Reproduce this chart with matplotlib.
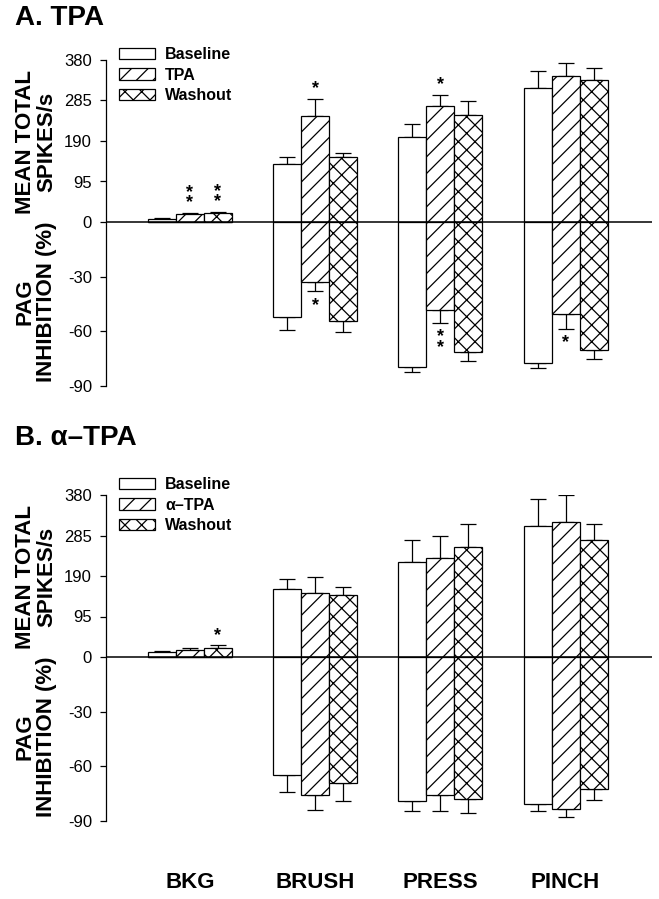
import numpy as np
import matplotlib.pyplot as plt
from matplotlib.patches import Patch
from matplotlib.transforms import blended_transform_factory

plt.rcParams['font.family'] = ['Liberation Sans', 'DejaVu Sans']
plt.rcParams['hatch.linewidth'] = 0.9

categories = ["BKG", "BRUSH", "PRESS", "PINCH"]
upper_ticks = [0, 95, 190, 285, 380]
lower_ticks = [-30, -60, -90]

# panel A: mean total spikes/s (upper) and PAG inhibition % (lower)
a_series = ["Baseline", "TPA", "Washout"]
a_up = [[7, 137, 200, 315], [18, 249, 271, 343], [20, 152, 252, 333]]
a_up_err = [[2, 15, 30, 40], [4, 40, 28, 29], [4, 9, 31, 29]]
a_low = [[0, -52, -79.3, -77.3], [0, -33, -48.2, -50.7], [0, -54.4, -71.6, -70.5]]
a_low_err = [[0, 7, 3, 3], [0, 5, 7, 8], [0, 6, 4.5, 4.5]]
# significance marks: (series, category, "up"/"down", label)
a_marks = [(1, 0, "up", "*\n*"), (2, 0, "up", "*\n*"), (1, 1, "up", "*"), (1, 2, "up", "*"),
           (1, 1, "down", "*"), (1, 2, "down", "*\n*"), (1, 3, "down", "*")]

# panel B
b_series = ["Baseline", "\u03b1\u2013TPA", "Washout"]
b_up = [[11, 160, 223, 307], [16, 151, 233, 316], [20, 146, 259, 274]]
b_up_err = [[4, 24, 52, 64], [6, 36, 52, 64], [7, 19, 52, 37]]
b_low = [[0, -64.5, -78.8, -80.4], [0, -76, -75.5, -83.2], [0, -69.4, -77.9, -72.5]]
b_low_err = [[0, 9.7, 5.7, 4], [0, 8, 9, 4.6], [0, 9.5, 7.6, 6]]
b_marks = [(2, 0, "up", "*")]

hatches = ["", "//", "xx"]

# mixed scale: 380 spikes/s and 90 % take about the same height
U = 162 / 380.0
L = 164 / 90.0

W, H = 659, 899
fig = plt.figure(figsize=(W / 100, H / 100), dpi=100)


def make_panel(top_px, title, title_y, series, up, up_err, low, low_err, marks, leg_y):
    zero_px = top_px + 162
    bottom_px = zero_px + 164
    ax = fig.add_axes([106 / W, 1 - bottom_px / H, (652 - 106) / W, (bottom_px - top_px) / H])
    x = np.arange(len(categories))
    bw = 0.224
    for i in range(3):
        xs = x + (i - 1) * bw
        u = np.array(up[i]) * U
        ue = np.array(up_err[i]) * U
        lo = np.array(low[i]) * L
        le = np.array(low_err[i]) * L
        ax.bar(xs, u, bw, color="white", edgecolor="black", hatch=hatches[i], linewidth=0.9, zorder=2)
        ax.bar(xs, lo, bw, color="white", edgecolor="black", hatch=hatches[i], linewidth=0.9, zorder=2)
        ax.errorbar(xs, u, yerr=[np.zeros_like(ue), ue], fmt="none", ecolor="black",
                    elinewidth=0.9, capsize=6, capthick=0.9, zorder=1)
        m = lo < 0
        ax.errorbar(xs[m], lo[m], yerr=[le[m], np.zeros_like(le[m])], fmt="none", ecolor="black",
                    elinewidth=0.9, capsize=6, capthick=0.9, zorder=1)
    ax.axhline(0, color="black", lw=1.1, zorder=3)

    for s, c, d, lab in marks:
        xs = c + (s - 1) * bw
        if d == "up":
            y = (up[s][c] + up_err[s][c]) * U
            ax.annotate(lab, (xs, y), xytext=(0, 1), textcoords="offset points", ha="center",
                        va="bottom", fontsize=13, fontweight="bold", linespacing=0.5)
        else:
            y = (low[s][c] - low_err[s][c]) * L
            ax.annotate(lab, (xs, y), xytext=(0, -4), textcoords="offset points", ha="center",
                        va="top", fontsize=13, fontweight="bold", linespacing=0.5)

    ax.set_xlim(-0.67, 3.69)
    ax.set_ylim(-90 * L, 380 * U)
    yt = [v * U for v in upper_ticks] + [v * L for v in lower_ticks]
    ax.set_yticks(yt)
    ax.set_yticklabels([str(v) for v in upper_ticks + lower_ticks], fontsize=12)
    ax.set_xticks([])
    for sp in ["top", "right", "bottom"]:
        ax.spines[sp].set_visible(False)
    ax.spines["left"].set_linewidth(0.9)
    ax.tick_params(axis="y", direction="out", length=4, width=0.9, pad=6)

    fig.text(15 / W, 1 - title_y / H, title, fontsize=20, fontweight="bold", va="baseline")
    fig.text(36 / W, 1 - (top_px + 82) / H, "MEAN TOTAL\nSPIKES/s", rotation=90, ha="center",
             va="center", fontsize=16, fontweight="bold", linespacing=1.0)
    fig.text(36 / W, 1 - (zero_px + 80) / H, "PAG\nINHIBITION (%)", rotation=90, ha="center",
             va="center", fontsize=16, fontweight="bold", linespacing=1.0)

    handles = [Patch(facecolor="white", edgecolor="black", hatch=h, linewidth=0.9) for h in hatches]
    ax.legend(handles, series, loc="upper left",
              bbox_to_anchor=(119 / W, 1 - leg_y / H), bbox_transform=fig.transFigure,
              frameon=False, handlelength=2.25, handleheight=0.75, handletextpad=0.65,
              labelspacing=0.35, borderaxespad=0, borderpad=0,
              prop={"size": 11.5, "weight": "bold"})
    return ax


make_panel(60, "A. TPA", 25, a_series, a_up, a_up_err, a_low, a_low_err, a_marks, 47)
axb = make_panel(495, "B. \u03b1\u2013TPA", 445, b_series, b_up, b_up_err, b_low, b_low_err, b_marks, 477)

tr = blended_transform_factory(axb.transData, fig.transFigure)
for i, c in enumerate(categories):
    axb.text(i, 1 - 883 / H, c, transform=tr, ha="center", va="center", fontsize=16, fontweight="bold")

fig.savefig("out.png", dpi=100)
